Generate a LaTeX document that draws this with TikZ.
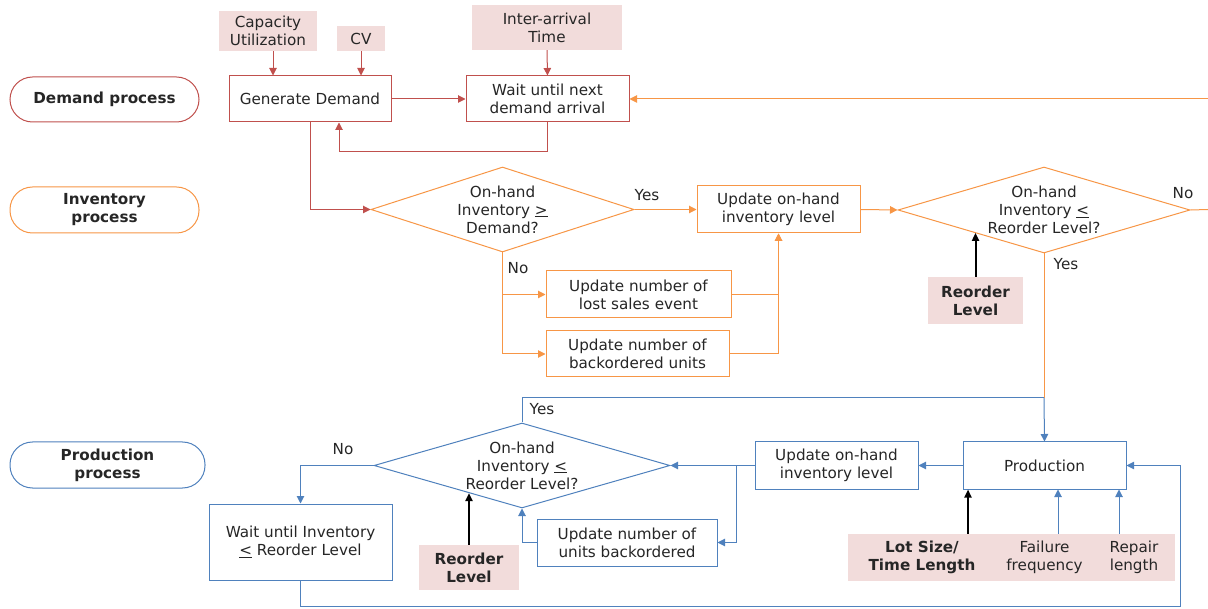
\documentclass[tikz,border=0pt]{standalone}
\usepackage{fontspec}
\setmainfont{DejaVu Sans}
\usetikzlibrary{shapes.geometric,arrows.meta,calc}
\definecolor{dred}{HTML}{C0504D}
\definecolor{org}{HTML}{F79646}
\definecolor{blu}{HTML}{4F81BD}
\definecolor{pinkfill}{HTML}{F2DCDB}
\definecolor{txt}{HTML}{262626}
\begin{document}
\begin{tikzpicture}[x=1pt,y=-1pt,
  font=\fontsize{15.2}{18}\selectfont, text=txt,
  every node/.style={inner sep=0pt, align=center},
  term/.style={draw, line width=1pt, rounded corners=22.5pt, fill=white},
  box/.style={draw, line width=1pt, rectangle, fill=white},
  param/.style={fill=pinkfill, rectangle},
  dia/.style={draw, line width=1pt, diamond, fill=white},
  lab/.style={anchor=center},
  tip/.style={-{Triangle[length=7.5pt,width=7.5pt]}},
  rline/.style={draw=dred, line width=1pt},
  oline/.style={draw=org, line width=1pt},
  bline/.style={draw=blu, line width=1pt},
  kline/.style={draw=black, line width=2pt, -{Triangle[length=8pt,width=7pt]}}]
\useasboundingbox (0,0) rectangle (1208,609);

% ---------- lane labels ----------
\node[term, draw=dred, minimum width=189pt, minimum height=45pt] (dp) at (104.5,99.5) {\textbf{Demand process}};
\node[term, draw=org, minimum width=189pt, minimum height=46pt] (ip) at (104.5,210) {\textbf{Inventory}\\\textbf{process}};
\node[term, draw=blu, minimum width=195pt, minimum height=46pt] (pp) at (107.5,465) {\textbf{Production}\\\textbf{process}};

% ---------- demand process ----------
\node[param, minimum width=98pt, minimum height=40pt] (cu) at (268,31) {Capacity\\Utilization};
\node[param, minimum width=48pt, minimum height=25pt] (cv) at (361,38.5) {CV};
\node[param, minimum width=150pt, minimum height=45pt] (ia) at (547,27.5) {Inter-arrival\\Time};
\node[box, draw=dred, minimum width=162pt, minimum height=46pt] (gd) at (310,99) {Generate Demand};
\node[box, draw=dred, minimum width=163pt, minimum height=46pt] (wt) at (547.5,99) {Wait until next\\demand arrival};

\draw[rline, tip] ([xshift=5pt]cu.south) -- ([xshift=5pt]cu.south |- gd.north);
\draw[rline, tip] (cv.south) -- (cv.south |- gd.north);
\draw[rline, tip] (ia.south) -- (wt.north);
\draw[rline, tip] (gd.east) -- (wt.west);
\draw[rline, tip] (wt.south) -- ++(0,29) -| ([xshift=29pt]gd.south);

% ---------- inventory process ----------
\node[dia, draw=org, minimum width=263pt, minimum height=85pt,
  label={[align=center]center:On-hand\\Inventory \underline{>}\\Demand?}] (d1) at (502.5,209.5) {};
\node[box, draw=org, minimum width=163pt, minimum height=47pt] (uil) at (778.5,209.5) {Update on-hand\\inventory level};
\node[dia, draw=org, minimum width=292pt, minimum height=86pt,
  label={[align=center]center:On-hand\\Inventory \underline{<}\\Reorder Level?}] (d2) at (1044,210) {};
\node[box, draw=org, minimum width=185pt, minimum height=47pt] (ls) at (638.5,294.5) {Update number of\\lost sales event};
\node[box, draw=org, minimum width=183pt, minimum height=46pt] (bo) at (637.5,354) {Update number of\\backordered units};
\node[param, minimum width=95pt, minimum height=47pt] (rl1) at (975.5,300.5) {\textbf{Reorder}\\\textbf{Level}};

\node[lab] (y1) at (647,195) {Yes};
\node[lab] (n1) at (518,268) {No};
\node[lab] (n2) at (1183,193) {No};
\node[lab] (y2) at (1066,264) {Yes};

\coordinate (oin) at (1208,99);
\coordinate (oout) at (1208,209.5);
\coordinate (j) at (1044,398);
\coordinate (d2r) at ($(d2.west)!0.527!(d2.south)$);

\draw[rline, tip] (gd.south) |- (d1.west);
\draw[oline, tip] (oin) -- (wt.east);
\draw[oline, tip] (d1.east) -- (uil.west);
\draw[oline, tip] (uil.east) -- (d2.west);
\draw[oline] (d2.east) -- (oout);
\draw[oline, tip] (d1.south) |- (ls.west);
\draw[oline, tip] (d1.south) |- (bo.west);
\draw[oline, tip] (ls.east) -| (uil.south);
\draw[oline, tip] (bo.east) -| (uil.south);
\draw[oline] (d2.south) -- (j);
\draw[kline] (rl1.north) -- (rl1.north |- d2r);

% ---------- production process ----------
\node[dia, draw=blu, minimum width=296pt, minimum height=85pt,
  label={[align=center]center:On-hand\\Inventory \underline{<}\\Reorder Level?}] (d3) at (522,465.5) {};
\node[box, draw=blu, minimum width=183pt, minimum height=76pt] (w2) at (300.5,542) {Wait until Inventory\\\underline{<} Reorder Level};
\node[box, draw=blu, minimum width=163pt, minimum height=47pt] (prod) at (1044.5,465.5) {Production};
\node[box, draw=blu, minimum width=163pt, minimum height=47pt] (uil2) at (836.5,465.5) {Update on-hand\\inventory level};
\node[box, draw=blu, minimum width=180pt, minimum height=47pt] (ub) at (627,542.5) {Update number of\\units backordered};
\node[param, minimum width=100pt, minimum height=45pt] (rl2) at (469,567.5) {\textbf{Reorder}\\\textbf{Level}};
\node[param, minimum width=148pt, minimum height=47pt] (lsz) at (922,557.5) {\textbf{Lot Size/}\\\textbf{Time Length}};
\node[param, minimum width=97pt, minimum height=47pt] (ff) at (1044.5,557.5) {Failure\\frequency};
\node[param, minimum width=82pt, minimum height=47pt] (rp) at (1134,557.5) {Repair\\length};

\node[lab] (y3) at (542,409) {Yes};
\node[lab] (n3) at (343,449) {No};

\coordinate (br) at (736,465.5);
\coordinate (cr) at (1180,606);
\coordinate (d3r) at ($(d3.west)!0.642!(d3.south)$);

\draw[bline, tip] (j) -- (prod.north);
\draw[bline] (d3.north) |- (j);
\draw[bline, tip] (prod.west) -- (uil2.east);
\draw[bline, tip] (uil2.west) -- (d3.east);
\draw[bline, tip] (br) |- (ub.east);
\draw[bline, tip] (ub.west) -| (d3.south);
\draw[bline, tip] (d3.west) -| (w2.north);
\draw[bline, tip] (w2.south) |- (cr) |- (prod.east);
\draw[kline] (rl2.north) -- (rl2.north |- d3r);
\draw[kline] ([xshift=46pt]lsz.north) -- ([xshift=46pt]lsz.north |- prod.south);
\draw[bline, tip] ([xshift=13.5pt]ff.north) -- ([xshift=13.5pt]ff.north |- prod.south);
\draw[bline, tip] ([xshift=-15pt]rp.north) -- ([xshift=-15pt]rp.north |- prod.south);
\end{tikzpicture}
\end{document}
